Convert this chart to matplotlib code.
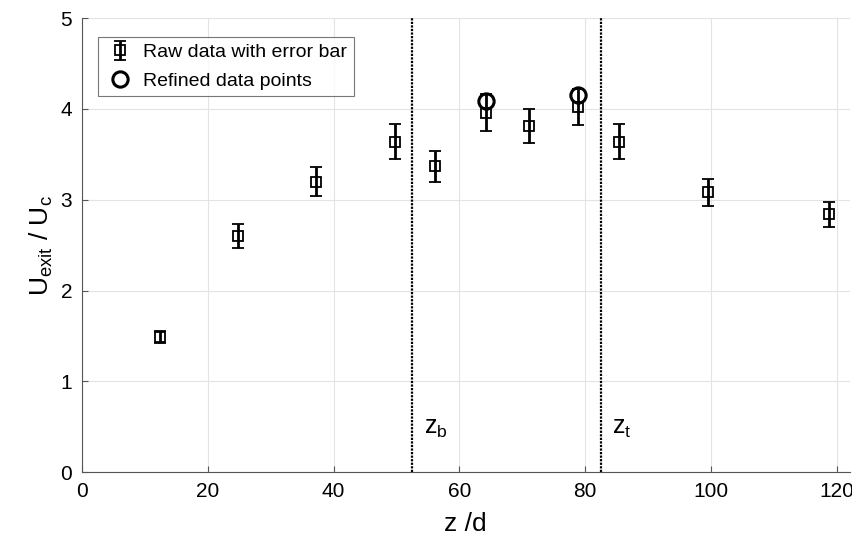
import matplotlib.pyplot as plt
import numpy as np

plt.rcParams['font.family'] = ['Liberation Sans', 'DejaVu Sans']
plt.rcParams['mathtext.fontset'] = 'custom'
plt.rcParams['mathtext.rm'] = 'Liberation Sans'

# raw data with error bars
z_raw = [12.4, 24.8, 37.2, 49.8, 56.1, 64.2, 71.0, 78.9, 85.3, 99.5, 118.7]
u_raw = [1.49, 2.60, 3.20, 3.64, 3.37, 3.96, 3.81, 4.02, 3.64, 3.08, 2.84]
u_err = [0.07, 0.13, 0.16, 0.19, 0.17, 0.20, 0.19, 0.20, 0.19, 0.15, 0.14]

# refined points
z_ref = [64.2, 78.9]
u_ref = [4.09, 4.15]

# marker lines
z_b = 52.5
z_t = 82.5

fig = plt.figure(figsize=(8.53, 5.46), dpi=100)
ax = fig.add_axes([0.096, 0.135, 0.9, 0.832])

eb = ax.errorbar(z_raw, u_raw, yerr=u_err, fmt='s', color='black', mfc='none',
                 mec='black', ms=7.5, mew=1.3, elinewidth=2, capsize=4, capthick=2,
                 label='Raw data with error bar', zorder=3)
ref, = ax.plot(z_ref, u_ref, 'o', ms=11, mfc='none', mec='black', mew=2.2,
               label='Refined data points', zorder=4)

ax.axvline(z_b, color='black', ls=(0, (1, 0.6)), lw=1.6)
ax.axvline(z_t, color='black', ls=(0, (1, 0.6)), lw=1.6)
ax.text(z_b + 1.8, 0.42, r'z$_\mathregular{b}$', fontsize=18)
ax.text(z_t + 1.8, 0.42, r'z$_\mathregular{t}$', fontsize=18)

ax.set_xlim(0, 122)
ax.set_ylim(0, 5)
ax.set_xticks(np.arange(0, 121, 20))
ax.set_yticks(np.arange(0, 6, 1))
ax.tick_params(direction='in', labelsize=15, length=4, color='#555555', pad=7)
ax.grid(True, color='#e3e3e3', lw=0.8)
ax.set_axisbelow(True)
for s in ['top', 'right']:
    ax.spines[s].set_visible(False)
for s in ['left', 'bottom']:
    ax.spines[s].set_color('#555555')

ax.set_xlabel('z /d', fontsize=19, labelpad=8)
ax.set_ylabel(r'U$_\mathregular{exit}$ / U$_\mathregular{c}$', fontsize=19, labelpad=4)

leg = ax.legend(handles=[eb, ref], loc='upper left', fontsize=14, frameon=True,
                fancybox=False, edgecolor='#555555', borderpad=0.35,
                handletextpad=0.4, handlelength=1.6, labelspacing=0.55,
                bbox_to_anchor=(0.008, 0.98))
leg.get_frame().set_linewidth(0.8)

fig.savefig('out.png', dpi=100)
